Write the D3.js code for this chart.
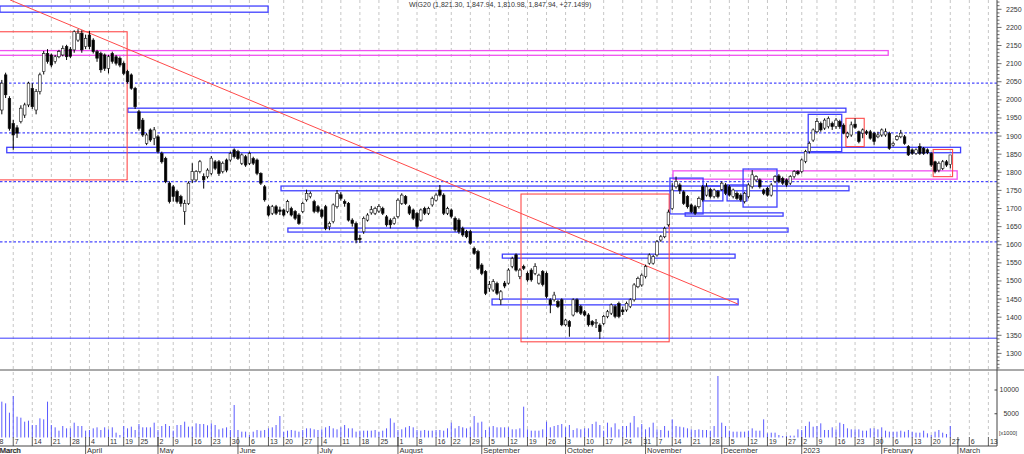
<!DOCTYPE html>
<html>
<head>
<meta charset="utf-8">
<script src="https://cdn.jsdelivr.net/npm/d3@7"></script>
<style>
body { margin: 0; background: #fff; }
svg { display: block; font-family: "Liberation Sans", Arial, sans-serif; }
</style>
</head>
<body>
<script>
// exchange holidays, skipped when counting trading days
var holidays = ["2022-04-15", "2022-04-18", "2022-05-03", "2022-06-16", "2022-08-15",
    "2022-11-01", "2022-11-11", "2022-12-26", "2023-01-06"];

// daily WIG20 candles, 2022-03-01 .. 2023-02-27
var opens = [
    1990,1972,2069,2004,1935,1923,1940,1958,1986,2032, 1972,2023,2078,2128,2124,2106,2119,2124,2147,2140,
    2138,2165,2184,2147,2179,2165,2133,2128,2124,2087, 2128,2119,2115,2101,2078,2069,2032,1967,1944,1880,
    1917,1894,1898,1852,1838,1770,1760,1747,1733,1692, 1714,1779,1779,1802,1788,1788,1797,1829,1829,1802,
    1834,1834,1862,1857,1825,1843,1825,1838,1834,1797, 1760,1705,1687,1705,1696,1696,1692,1700,1692,1682,
    1692,1724,1733,1719,1705,1696,1705,1650,1664,1705, 1738,1719,1714,1668,1659,1618,1636,1668,1688,1687,
    1693,1700,1677,1668,1659,1678,1714,1733,1705,1696, 1687,1668,1700,1687,1710,1723,1751,1737,1687,1696,
    1673,1668,1645,1636,1636,1590,1581,1544,1526,1480, 1475,1493,1448,1494,1494,1540,1572,1512,1540,1521,
    1530,1521,1494,1526,1521,1448,1448,1443,1448,1379, 1388,1406,1448,1429,1415,1406,1388,1383,1378,1383,
    1402,1411,1429,1438,1420,1420,1429,1448,1484,1489, 1512,1549,1549,1572,1613,1622,1655,1700,1760,1765,
    1746,1733,1710,1705,1705,1760,1737,1753,1733,1747, 1753,1765,1760,1733,1742,1737,1719,1733,1760,1779,
    1779,1751,1756,1737,1775,1790,1783,1779,1770,1788, 1802,1802,1830,1857,1889,1912,1935,1922,1926,1935,
    1926,1940,1930,1899,1903,1933,1912,1908,1912,1912, 1908,1898,1903,1903,1908,1875,1891,1898,1898,1871,
    1862,1852,1871,1866,1862,1852,1829,1806,1811,1829, 1821.30
];
var highs = [
    2010,2055,2075,2010,1945,1930,1985,1992,2050,2046, 2030,2075,2135,2140,2128,2124,2138,2150,2152,2146,
    2192,2195,2192,2180,2190,2170,2138,2133,2128,2124, 2133,2124,2120,2106,2083,2073,2036,1972,1950,1908,
    1921,1925,1903,1857,1843,1775,1765,1752,1738,1724, 1775,1825,1806,1834,1797,1811,1845,1834,1834,1830,
    1838,1857,1866,1862,1852,1848,1857,1843,1838,1800, 1765,1710,1710,1710,1705,1700,1724,1705,1696,1687,
    1719,1752,1747,1724,1710,1700,1710,1664,1714,1751, 1745,1725,1718,1673,1664,1627,1678,1687,1707,1705,
    1712,1705,1682,1673,1678,1728,1742,1737,1710,1700, 1690,1700,1705,1705,1733,1742,1765,1742,1705,1700,
    1678,1673,1650,1641,1641,1595,1586,1549,1530,1500, 1505,1498,1475,1500,1535,1567,1576,1535,1545,1526,
    1535,1549,1520,1530,1526,1452,1470,1448,1452,1395, 1392,1452,1452,1434,1420,1411,1392,1395,1383,1406,
    1420,1438,1434,1443,1429,1443,1452,1494,1512,1521, 1545,1576,1572,1613,1627,1650,1697,1770,1788,1770,
    1750,1737,1714,1710,1733,1765,1770,1757,1755,1751, 1775,1770,1765,1755,1747,1742,1746,1770,1806,1792,
    1783,1755,1760,1770,1792,1795,1788,1783,1792,1806, 1806,1838,1862,1885,1921,1950,1940,1949,1954,1940,
    1950,1945,1935,1912,1940,1949,1915,1921,1917,1917, 1912,1912,1921,1921,1912,1885,1903,1917,1903,1875,
    1866,1866,1880,1870,1866,1855,1832,1830,1834,1834, 1847.94
];
var lows = [
    1960,1960,2005,1915,1862,1895,1935,1950,1980,1975, 1960,2015,2070,2100,2090,2100,2115,2120,2110,2115,
    2130,2160,2130,2140,2140,2128,2105,2075,2080,2073, 2100,2095,2090,2068,2045,2028,1975,1915,1898,1875,
    1884,1875,1852,1824,1770,1714,1719,1714,1705,1655, 1710,1770,1774,1797,1755,1783,1792,1806,1790,1797,
    1800,1829,1838,1834,1820,1815,1820,1820,1792,1765, 1719,1678,1682,1682,1682,1678,1687,1678,1668,1655,
    1687,1719,1728,1687,1687,1673,1640,1640,1659,1700, 1722,1705,1664,1650,1604,1605,1630,1664,1683,1682,
    1688,1682,1650,1645,1655,1673,1710,1710,1682,1668, 1645,1664,1682,1682,1705,1719,1733,1682,1682,1673,
    1636,1630,1622,1618,1600,1572,1530,1516,1461,1470, 1470,1461,1434,1480,1490,1535,1526,1505,1530,1498,
    1498,1516,1490,1485,1452,1411,1443,1425,1375,1375, 1346,1402,1411,1406,1402,1374,1374,1370,1340,1378,
    1397,1406,1397,1397,1406,1415,1425,1443,1480,1484, 1507,1545,1545,1567,1608,1618,1650,1696,1755,1740,
    1710,1700,1687,1682,1700,1719,1733,1728,1728,1728, 1749,1737,1733,1728,1724,1719,1714,1728,1755,1774,
    1755,1737,1733,1733,1770,1770,1765,1760,1765,1783, 1792,1797,1825,1852,1884,1908,1912,1917,1921,1917,
    1920,1920,1905,1894,1898,1920,1880,1894,1903,1890, 1876,1894,1898,1898,1862,1871,1887,1894,1876,1845,
    1848,1848,1848,1848,1850,1815,1797,1800,1806,1815, 1810.98
];
var closes = [
    1975,2046,2014,1921,1903,1908,1977,1986,2046,1981, 2023,2069,2128,2106,2096,2119,2133,2142,2119,2120,
    2188,2184,2138,2170,2147,2133,2115,2083,2087,2119, 2106,2101,2096,2073,2050,2032,1981,1921,1903,1903,
    1889,1917,1857,1829,1774,1719,1733,1719,1714,1714, 1770,1802,1802,1829,1779,1806,1839,1811,1797,1825,
    1806,1852,1843,1838,1848,1820,1852,1825,1797,1770, 1724,1682,1705,1687,1692,1682,1719,1682,1673,1659,
    1714,1742,1742,1692,1692,1678,1645,1659,1710,1742, 1728,1714,1668,1659,1613,1614,1673,1682,1697,1700,
    1706,1687,1655,1655,1673,1723,1737,1714,1687,1673, 1650,1696,1687,1700,1728,1737,1737,1687,1700,1678,
    1641,1636,1627,1622,1604,1576,1535,1521,1466,1490, 1498,1466,1470,1486,1530,1562,1530,1530,1535,1503,
    1503,1540,1516,1490,1457,1434,1461,1429,1379,1392, 1374,1448,1415,1411,1406,1379,1379,1385,1360,1402,
    1415,1434,1402,1402,1415,1438,1448,1489,1507,1516, 1540,1572,1567,1608,1622,1645,1690,1751,1775,1750,
    1714,1705,1691,1687,1728,1724,1760,1733,1751,1733, 1770,1742,1737,1751,1728,1724,1742,1765,1793,1788,
    1760,1742,1737,1765,1788,1775,1770,1765,1788,1802, 1796,1834,1857,1880,1917,1940,1917,1944,1949,1926,
    1944,1926,1908,1908,1931,1924,1885,1917,1908,1894, 1885,1903,1917,1912,1866,1880,1899,1908,1880,1848,
    1852,1862,1852,1852,1854,1820,1802,1825,1829,1820, 1847.94
];
// volume in thousands
var volumes = [
    5000,7543,7192,5226,8736,4385,4174,3333,3543,2631, 2631,4034,3823,7543,2631,2140,1438,2420,1929,1929,
    3122,2420,2420,1438,1579,1929,2140,1579,2140,1719, 2140,1017,526,2420,1929,2280,1579,2842,2140,2140,
    2140,3122,1579,2420,2842,2420,1438,2631,2631,3333, 2280,2280,2982,2842,2842,2561,2982,2631,1719,1929,
    2140,1579,6841,1579,1228,1228,526,1228,1579,1438, 1579,1929,2140,2631,4525,1228,1438,1579,1438,1228,
    1579,1929,1929,1719,1579,1719,2140,2420,1929,1719, 2140,2631,1929,1929,1228,1438,1438,1438,1438,1579,
    1228,1438,1929,4034,3122,1579,1719,2140,2420,2140, 1579,1438,1579,1438,1438,1579,1579,1438,1929,3122,
    1929,2420,2140,1929,2140,4525,3122,3333,1579,2140, 2420,2140,2140,2140,2140,1719,1719,1929,6490,1719,
    1438,1438,1438,1719,3333,2140,2420,2631,2842,2140, 2631,1579,1929,1719,1929,1929,2842,3333,2631,1438,
    3122,2140,2982,1719,2420,2420,3122,4525,2140,2842, 1719,2140,3122,1719,1579,2420,1438,3823,2420,2280,
    2140,1929,1719,1579,1719,1579,1579,1438,2420,12946, 3122,2420,1438,1228,1228,1228,1228,1438,1929,1438,
    1438,3823,877,1017,1017,526,316,386,386,386, 1719,1579,2420,3333,2280,2420,2982,1579,1579,2140,
    1719,3122,2842,1929,1719,1719,1719,1438,1438,1929, 1929,1719,2140,1438,1228,1228,1228,1438,1228,1579,
    1228,1017,1017,1438,877,526,1228,1579,1017,737, 2420
];
var lastChange = 27.1499;

var priceTicks = [1300, 1350, 1400, 1450, 1500, 1550, 1600, 1650, 1700, 1750,
    1800, 1850, 1900, 1950, 2000, 2050, 2100, 2150, 2200, 2250];
var volumeTicks = [5000, 10000];

// drawn studies: day index (0 = 2022-02-28) and price
var dottedLevels = [2046, 1909, 1774, 1608];
var solidLevels = [1342];
var trendLine = [[4.15, 2276], [195.3, 1436]];
var blueBoxes = [
    [1.5, 71.9, 2259, 2242], [35.1, 223.6, 1977, 1966], [3.3, 253.7, 1869, 1854],
    [75.3, 224.4, 1762, 1749], [77.1, 208.4, 1646, 1635], [133.4, 194.5, 1574, 1563],
    [130.7, 195.3, 1450, 1434], [177.4, 186.1, 1784, 1685], [186.3, 191.3, 1762, 1721],
    [192.4, 197.6, 1765, 1721], [196.6, 205.5, 1809, 1704], [181.4, 207.1, 1688, 1679],
    [213.7, 222.5, 1960, 1857]
];
var redBoxes = [
    [-1, 34.9, 2188, 1779], [138.3, 177.2, 1740, 1332],
    [223.6, 228.4, 1949, 1871], [246.5, 251.6, 1863, 1788]
];
var pinkBoxes = [[-1, 234.7, 2136, 2123], [178.2, 252.8, 1804, 1781]];

window.onload = (event) => {
    setChart();
};

function tradingDays(start, end) {
    var out = [];
    var d = new Date(start + "T00:00:00Z"),
        stop = new Date(end + "T00:00:00Z");
    while (d <= stop) {
        var wd = d.getUTCDay(),
            iso = d.toISOString().slice(0, 10);
        if (wd != 0 && wd != 6 && holidays.indexOf(iso) < 0) out.push(new Date(d));
        d.setUTCDate(d.getUTCDate() + 1);
    }
    return out;
}

function setChart() {
    var width = 1024,
        height = 454,
        plotRight = 997,
        panelSplit = 370,
        axisY = 446;

    var svg = d3.select("body")
        .append("svg")
        .attr("width", width)
        .attr("height", height)
        .attr("viewBox", "0 0 " + width + " " + height);

    var days = tradingDays("2022-02-28", "2023-03-24");

    var x = d3.scaleLinear().domain([0, 263]).range([-5.8, 996]);
    var y = d3.scaleLinear().domain([1300, 2250]).range([353.4, 9.3]);
    var yVol = d3.scaleLinear().domain([0, 10000]).range([437.5, 390]);

    var defs = svg.append("defs");
    defs.append("clipPath").attr("id", "clipPrice")
        .append("rect").attr("x", 0).attr("y", 0).attr("width", plotRight).attr("height", panelSplit);
    defs.append("clipPath").attr("id", "clipVol")
        .append("rect").attr("x", 0).attr("y", panelSplit).attr("width", plotRight).attr("height", axisY - panelSplit);

    var candles = opens.map(function(o, j) {
        return {
            k: j + 1, o: o, c: closes[j], v: volumes[j],
            h: Math.max(highs[j], o, closes[j]),
            l: Math.min(lows[j], o, closes[j])
        };
    });

    // week and month starts
    var weekStarts = [], monthStarts = [];
    days.forEach(function(d, k) {
        if (k == 0 || d.getUTCDay() <= days[k - 1].getUTCDay()) weekStarts.push(k);
        if (k > 0 && d.getUTCMonth() != days[k - 1].getUTCMonth()) monthStarts.push(k);
    });
    weekStarts = weekStarts.filter(function(k) { return x(k) < plotRight; });
    monthStarts = monthStarts.filter(function(k) { return x(k) < plotRight; });

    // vertical dashed grid
    svg.append("g")
        .selectAll("line")
        .data(weekStarts.filter(function(k) { return x(k) > 0; }))
        .enter()
        .append("line")
        .attr("x1", function(k) { return x(k); })
        .attr("x2", function(k) { return x(k); })
        .attr("y1", 0)
        .attr("y2", 437)
        .attr("stroke", "#b8b8b8")
        .attr("stroke-width", 0.8)
        .attr("stroke-dasharray", "3,3");

    var price = svg.append("g").attr("clip-path", "url(#clipPrice)");

    // horizontal levels
    price.selectAll(".dotted")
        .data(dottedLevels)
        .enter()
        .append("line")
        .attr("x1", 0)
        .attr("x2", plotRight)
        .attr("y1", function(d) { return y(d); })
        .attr("y2", function(d) { return y(d); })
        .attr("stroke", "#4848ff")
        .attr("stroke-width", 1.2)
        .attr("stroke-dasharray", "2.5,2");

    price.selectAll(".solid")
        .data(solidLevels)
        .enter()
        .append("line")
        .attr("x1", 0)
        .attr("x2", plotRight)
        .attr("y1", function(d) { return y(d); })
        .attr("y2", function(d) { return y(d); })
        .attr("stroke", "#3a3aff")
        .attr("stroke-width", 1);

    function drawBoxes(list, color, w) {
        price.append("g")
            .selectAll("rect")
            .data(list)
            .enter()
            .append("rect")
            .attr("x", function(b) { return x(b[0]); })
            .attr("y", function(b) { return y(b[2]); })
            .attr("width", function(b) { return x(b[1]) - x(b[0]); })
            .attr("height", function(b) { return y(b[3]) - y(b[2]); })
            .attr("fill", "none")
            .attr("stroke", color)
            .attr("stroke-width", w);
    }
    drawBoxes(pinkBoxes, "#f050f0", 1.3);
    drawBoxes(blueBoxes, "#4040ff", 1.3);
    drawBoxes(redBoxes, "#ff4a4a", 1.1);

    price.append("line")
        .attr("x1", x(trendLine[0][0]))
        .attr("y1", y(trendLine[0][1]))
        .attr("x2", x(trendLine[1][0]))
        .attr("y2", y(trendLine[1][1]))
        .attr("stroke", "#ff4a4a")
        .attr("stroke-width", 1);

    // candles
    var candle = price.append("g")
        .selectAll("g")
        .data(candles)
        .enter()
        .append("g");

    candle.append("line")
        .attr("x1", function(d) { return x(d.k); })
        .attr("x2", function(d) { return x(d.k); })
        .attr("y1", function(d) { return y(d.h); })
        .attr("y2", function(d) { return y(d.l); })
        .attr("stroke", "#000")
        .attr("stroke-width", 1);

    candle.append("rect")
        .attr("x", function(d) { return x(d.k) - 1.3; })
        .attr("y", function(d) { return y(Math.max(d.o, d.c)); })
        .attr("width", 2.6)
        .attr("height", function(d) { return Math.max(0.8, Math.abs(y(d.o) - y(d.c))); })
        .attr("fill", function(d) { return d.c >= d.o ? "#fff" : "#000"; })
        .attr("stroke", "#111")
        .attr("stroke-width", 0.6);

    // volume bars
    svg.append("g")
        .attr("clip-path", "url(#clipVol)")
        .selectAll("line")
        .data(candles)
        .enter()
        .append("line")
        .attr("x1", function(d) { return x(d.k); })
        .attr("x2", function(d) { return x(d.k); })
        .attr("y1", yVol(0))
        .attr("y2", function(d) { return yVol(d.v); })
        .attr("stroke", "#5a5aff")
        .attr("stroke-width", 1);

    // frame lines
    svg.append("line")
        .attr("x1", 0).attr("x2", width)
        .attr("y1", panelSplit).attr("y2", panelSplit)
        .attr("stroke", "#555").attr("stroke-width", 1);
    svg.append("line")
        .attr("x1", plotRight).attr("x2", plotRight)
        .attr("y1", 0).attr("y2", axisY)
        .attr("stroke", "#444").attr("stroke-width", 1);
    svg.append("line")
        .attr("x1", 0).attr("x2", plotRight)
        .attr("y1", axisY).attr("y2", axisY)
        .attr("stroke", "#444").attr("stroke-width", 1);

    // price axis
    var minor = d3.range(1260, 2280, 10);
    svg.append("g")
        .selectAll("line")
        .data(minor)
        .enter()
        .append("line")
        .attr("x1", plotRight)
        .attr("x2", function(p) { return p % 50 == 0 ? plotRight + 4.5 : plotRight + 2.5; })
        .attr("y1", function(p) { return y(p); })
        .attr("y2", function(p) { return y(p); })
        .attr("stroke", "#444")
        .attr("stroke-width", 0.8);

    svg.append("g")
        .selectAll("text")
        .data(priceTicks)
        .enter()
        .append("text")
        .attr("x", 1006)
        .attr("y", function(p) { return y(p); })
        .attr("dy", "0.35em")
        .attr("font-size", 7)
        .attr("fill", "#333")
        .text(function(p) { return p; });

    // volume axis
    svg.append("g")
        .selectAll("line")
        .data(volumeTicks)
        .enter()
        .append("line")
        .attr("x1", plotRight - 2.5)
        .attr("x2", plotRight)
        .attr("y1", function(v) { return yVol(v); })
        .attr("y2", function(v) { return yVol(v); })
        .attr("stroke", "#444");

    svg.append("g")
        .selectAll("text")
        .data(volumeTicks)
        .enter()
        .append("text")
        .attr("x", 1019)
        .attr("y", function(v) { return yVol(v); })
        .attr("dy", "0.35em")
        .attr("text-anchor", "end")
        .attr("font-size", 7)
        .attr("fill", "#333")
        .text(function(v) { return v; });

    svg.append("text")
        .attr("x", 999)
        .attr("y", 435)
        .attr("font-size", 5.5)
        .attr("fill", "#333")
        .text("[x1000]");

    // date axis
    var dayFmt = d3.utcFormat("%-d"),
        monFmt = d3.utcFormat("%B");

    var wk = svg.append("g")
        .selectAll("g")
        .data(weekStarts)
        .enter()
        .append("g");
    wk.append("line")
        .attr("x1", function(k) { return x(k); })
        .attr("x2", function(k) { return x(k); })
        .attr("y1", 437)
        .attr("y2", axisY)
        .attr("stroke", "#333")
        .attr("stroke-width", 0.8);
    wk.append("text")
        .attr("x", function(k) { return x(k) + 1.5; })
        .attr("y", 443.5)
        .attr("font-size", 7)
        .attr("fill", "#333")
        .text(function(k) { return dayFmt(days[k]); });

    var mo = svg.append("g")
        .selectAll("g")
        .data(monthStarts)
        .enter()
        .append("g");
    mo.append("line")
        .attr("x1", function(k) { return x(k); })
        .attr("x2", function(k) { return x(k); })
        .attr("y1", 437)
        .attr("y2", height)
        .attr("stroke", "#333")
        .attr("stroke-width", 0.8);
    mo.append("text")
        .attr("x", function(k) { return x(k) + 1.5; })
        .attr("y", 453)
        .attr("font-size", 7.5)
        .attr("fill", "#333")
        .text(function(k) {
            var d = days[k];
            return d.getUTCMonth() == 0 ? d.getUTCFullYear() : monFmt(d);
        });
    svg.append("text")
        .attr("x", 0)
        .attr("y", 453)
        .attr("font-size", 7.5)
        .attr("fill", "#333")
        .text(monFmt(days[1]));

    // title with last candle values
    var n = opens.length - 1,
        f = d3.format(",.2f");
    svg.append("text")
        .attr("x", 409)
        .attr("y", 7)
        .attr("font-size", 7)
        .attr("fill", "#333")
        .text("WIG20 (" + f(opens[n]) + ", " + f(highs[n]) + ", " + f(lows[n]) + ", " +
            f(closes[n]) + ", +" + lastChange + ")");
}
</script>
</body>
</html>
